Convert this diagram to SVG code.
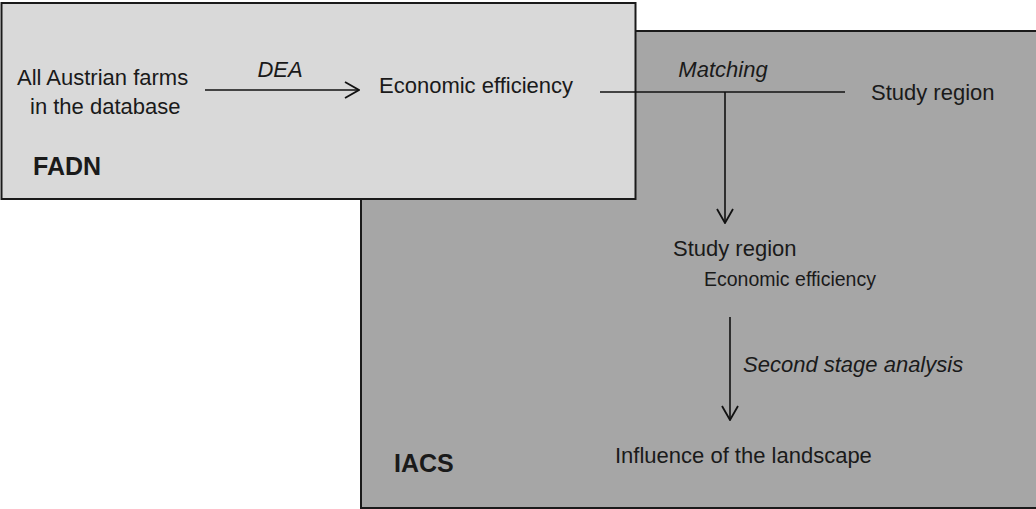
<svg xmlns="http://www.w3.org/2000/svg" width="1036" height="509" viewBox="0 0 1036 509">
  <style>
    .t { font-family: "Liberation Sans", Arial, sans-serif; fill: #1a1a1a; font-size: 22px; }
    .i { font-style: italic; }
    .b { font-weight: bold; font-size: 25px; }
    .s { font-size: 19.5px; }
    .ln { stroke: #111; stroke-width: 1.6; fill: none; }
  </style>
  <defs>
    <marker id="arr" viewBox="0 0 16 18" refX="15" refY="9" markerWidth="16" markerHeight="18" markerUnits="userSpaceOnUse" orient="auto">
      <polyline points="1,1 15,9 1,17" fill="none" stroke="#111" stroke-width="1.8"/>
    </marker>
  </defs>
  <rect width="1036" height="509" fill="#ffffff"/>
  <g id="iacs">
    <rect x="361" y="31" width="680" height="477" fill="#a6a6a6" stroke="#1a1a1a" stroke-width="2"/>
    <text class="t b" x="394" y="472">IACS</text>
  </g>
  <g id="fadn">
    <rect x="1.5" y="3" width="634" height="196" fill="#d9d9d9" stroke="#1a1a1a" stroke-width="2"/>
    <text class="t b" x="33" y="175">FADN</text>
  </g>
  <g id="connectors">
    <line class="ln" x1="205" y1="90" x2="359" y2="90" marker-end="url(#arr)"/>
    <line class="ln" x1="600" y1="92" x2="845" y2="92"/>
    <line class="ln" x1="725" y1="92" x2="725" y2="223" marker-end="url(#arr)"/>
    <line class="ln" x1="730" y1="317" x2="730" y2="420" marker-end="url(#arr)"/>
  </g>
  <g id="labels">
    <text class="t i" x="280" y="77" text-anchor="middle">DEA</text>
    <text class="t i" x="723" y="77" text-anchor="middle">Matching</text>
    <text class="t i" x="743" y="372">Second stage analysis</text>
  </g>
  <g id="all-farms">
    <text class="t" x="17" y="85">All Austrian farms</text>
    <text class="t" x="30" y="114">in the database</text>
  </g>
  <g id="economic-efficiency">
    <text class="t" x="379" y="93">Economic efficiency</text>
  </g>
  <g id="study-region-top">
    <text class="t" x="871" y="100">Study region</text>
  </g>
  <g id="study-region-efficiency">
    <text class="t" x="673" y="256">Study region</text>
    <text class="t s" x="704" y="286">Economic efficiency</text>
  </g>
  <g id="influence">
    <text class="t" x="615" y="463">Influence of the landscape</text>
  </g>
</svg>
